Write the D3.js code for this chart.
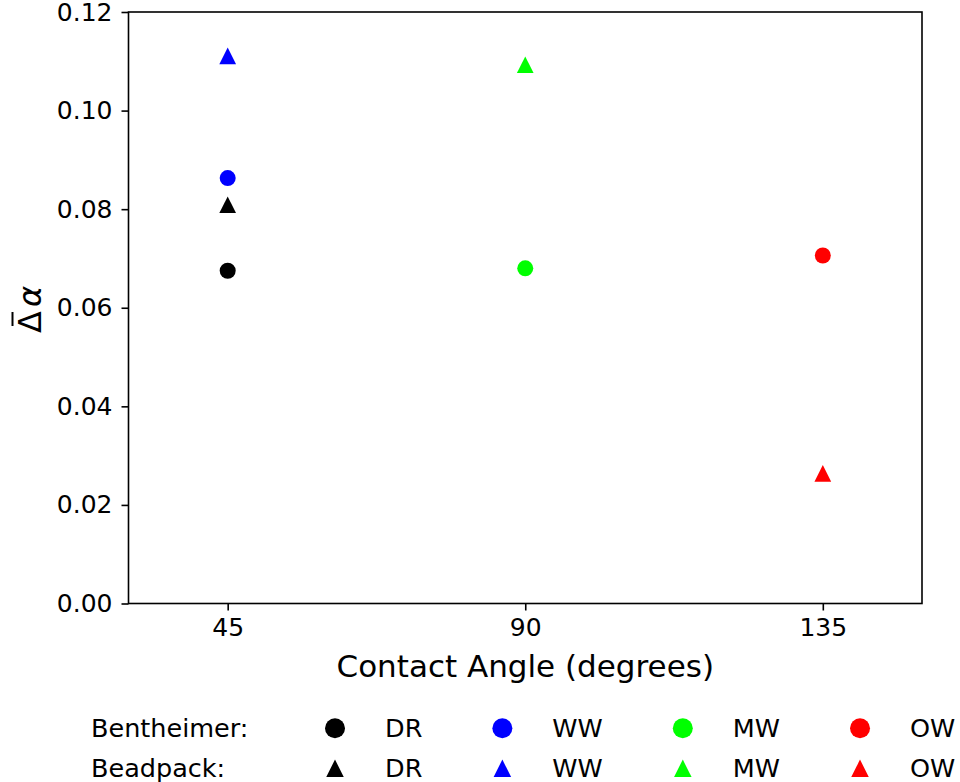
<!DOCTYPE html>
<html lang="en">
<head>
<meta charset="utf-8">
<title>Contact angle vs delta alpha</title>
<script src="https://d3js.org/d3.v7.min.js"></script>
<style>
  body { margin: 0; background: #fff; }
  svg text { font-family: "DejaVu Sans", sans-serif; fill: #000; }
  .axis path, .axis line { stroke: #000; stroke-width: 1.6px; }
  .axis text { font-size: 25px; }
</style>
</head>
<body>
<div id="chart"></div>
<script>
// data
var categories = ["DR", "WW", "MW", "OW"];
var contactAngle = [45, 45, 90, 135];
var bentheimer = [0.0675, 0.0863, 0.0680, 0.0706];
var beadpack = [0.0809, 0.1111, 0.1093, 0.0264];
var xTicks = [45, 90, 135];
var yTicks = [0, 0.02, 0.04, 0.06, 0.08, 0.10, 0.12];
var rockNames = ["Bentheimer:", "Beadpack:"];

var width = 960, height = 782;
var margin = {top: 12, right: 38, bottom: 178.5, left: 128.5};

var svg = d3.select("#chart").append("svg")
    .attr("width", width)
    .attr("height", height);

var x = d3.scaleLinear().domain([30, 150]).range([margin.left, width - margin.right]);
var y = d3.scaleLinear().domain([0, 0.12]).range([height - margin.bottom, margin.top]);

var color = d3.scaleOrdinal()
    .domain(categories)
    .range(["#000000", "#0000ff", "#00ff00", "#ff0000"]);

// matplotlib style "^" marker: width == height, centred on bbox
function triangle(s) {
  var h = s / 2;
  return "M0," + (-h) + "L" + (-h) + "," + h + "L" + h + "," + h + "Z";
}

// frame
svg.append("rect")
    .attr("x", margin.left)
    .attr("y", margin.top)
    .attr("width", x.range()[1] - x.range()[0])
    .attr("height", y.range()[0] - y.range()[1])
    .attr("fill", "none")
    .attr("stroke", "#000")
    .attr("stroke-width", 1.6);

svg.append("g")
    .attr("class", "axis")
    .attr("transform", "translate(0," + y.range()[0] + ")")
    .call(d3.axisBottom(x).tickValues(xTicks).tickSize(7).tickPadding(8).tickSizeOuter(0))
    .call(function(g) { g.select(".domain").remove(); });

svg.append("g")
    .attr("class", "axis")
    .attr("transform", "translate(" + margin.left + ",0)")
    .call(d3.axisLeft(y).tickValues(yTicks).tickFormat(d3.format(".2f")).tickSize(7).tickPadding(9).tickSizeOuter(0))
    .call(function(g) { g.select(".domain").remove(); });

// axis labels
svg.append("text")
    .attr("x", (x.range()[0] + x.range()[1]) / 2)
    .attr("y", 677)
    .attr("text-anchor", "middle")
    .style("font-size", "31px")
    .text("Contact Angle (degrees)");

// y label: bar-Delta alpha (mathtext look), drawn in a rotated group
var ylab = svg.append("g").attr("transform", "translate(41,300) rotate(-90)");
var ytxt = ylab.append("text")
    .attr("x", -33)
    .attr("y", 0)
    .style("font-size", "32px");
ytxt.append("tspan").style("font-style", "normal").text("\u0394");
ytxt.append("tspan").attr("dx", 4).style("font-style", "italic").text("\u03b1");
ylab.append("line")
    .attr("x1", -26).attr("x2", -12)
    .attr("y1", -28.5).attr("y2", -28.5)
    .attr("stroke", "#000")
    .attr("stroke-width", 2);

// points
var pts = categories.map(function(c, i) {
  return {cat: c, angle: contactAngle[i], bent: bentheimer[i], bead: beadpack[i]};
});

svg.append("g").selectAll("circle")
    .data(pts)
    .enter().append("circle")
    .attr("cx", function(d) { return x(d.angle); })
    .attr("cy", function(d) { return y(d.bent); })
    .attr("r", 8)
    .attr("fill", function(d) { return color(d.cat); });

svg.append("g").selectAll("path")
    .data(pts)
    .enter().append("path")
    .attr("transform", function(d) { return "translate(" + x(d.angle) + "," + y(d.bead) + ")"; })
    .attr("d", triangle(16.7))
    .attr("fill", function(d) { return color(d.cat); });

// legend: row labels + 4 columns of marker/text
var legend = svg.append("g").style("font-size", "25.5px");
var rowY = [728.3, 768.3];

rockNames.forEach(function(name, r) {
  legend.append("text")
      .attr("x", 91)
      .attr("y", rowY[r])
      .attr("dy", "0.36em")
      .text(name);
});

var mx = 335;
categories.forEach(function(c) {
  legend.append("circle")
      .attr("cx", mx).attr("cy", rowY[0]).attr("r", 10)
      .attr("fill", color(c));
  legend.append("path")
      .attr("transform", "translate(" + mx + "," + rowY[1] + ")")
      .attr("d", triangle(17.5))
      .attr("fill", color(c));
  var t1 = legend.append("text").attr("x", mx + 50).attr("y", rowY[0]).attr("dy", "0.36em").text(c);
  legend.append("text").attr("x", mx + 50).attr("y", rowY[1]).attr("dy", "0.36em").text(c);
  mx = mx + 50 + t1.node().getComputedTextLength() + 80;
});
</script>
</body>
</html>
